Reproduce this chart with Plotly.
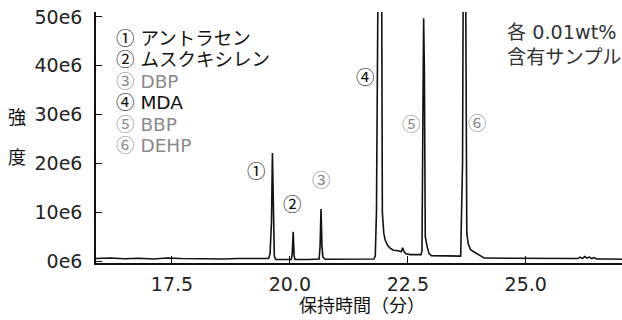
import plotly.graph_objects as go

# Chromatogram trace, points (time in min, intensity)
times = [15.89, 16.2, 16.5, 16.8, 17.1, 17.4, 17.7, 18.0, 18.3, 18.6, 18.9, 19.2, 19.45, 19.55,
         19.58, 19.61, 19.63, 19.65, 19.67, 19.70, 19.9, 20.03, 20.05, 20.07, 20.09, 20.11,
         20.4, 20.62, 20.64, 20.66, 20.68, 20.70, 20.75, 21.2, 21.78, 21.81, 21.835, 21.87,
         21.945, 21.96, 21.99, 22.02, 22.07, 22.12, 22.19, 22.30, 22.36, 22.39, 22.42, 22.46,
         22.55, 22.78, 22.80, 22.82, 22.835, 22.85, 22.87, 22.91, 22.95, 23.0, 23.3, 23.62,
         23.66, 23.675, 23.725, 23.74, 23.75, 23.78, 23.83, 23.93, 24.05, 24.12, 24.6, 25.2,
         25.8, 26.1, 26.15, 26.2, 26.25, 26.3, 26.35, 26.4, 26.45, 26.5, 26.8, 27.04]
intensity = [0.5e6, 0.6e6, 0.45e6, 0.55e6, 0.4e6, 0.6e6, 0.5e6, 0.45e6, 0.55e6, 0.4e6, 0.5e6, 0.45e6, 0.4e6, 0.5e6,
             1.5e6, 8e6, 22.1e6, 8e6, 1.0e6, 0.3e6, 0.25e6, 0.3e6, 1.5e6, 6.0e6, 1.0e6, 0.3e6,
             0.3e6, 0.4e6, 3e6, 10.65e6, 3e6, 0.8e6, 0.35e6, 0.35e6, 0.4e6, 1.0e6, 10e6, 60e6,
             60e6, 10e6, 5.7e6, 4.3e6, 3.2e6, 2.7e6, 2.2e6, 2.1e6, 1.9e6, 2.7e6, 1.9e6, 1.5e6,
             1.3e6, 1.3e6, 2e6, 30e6, 49.7e6, 40e6, 5e6, 2.9e6, 1.5e6, 1.1e6, 1.0e6, 1.0e6,
             20e6, 60e6, 60e6, 10e6, 5.7e6, 3.5e6, 2.3e6, 1.7e6, 1.0e6, 0.6e6, 0.55e6, 0.5e6,
             0.5e6, 0.5e6, 0.8e6, 0.5e6, 0.9e6, 0.6e6, 0.8e6, 0.5e6, 0.7e6, 0.4e6, 0.4e6, 0.35e6]

x_tick_vals = [17.5, 20.0, 22.5, 25.0]
x_tick_text = ["17.5", "20.0", "22.5", "25.0"]
y_tick_vals = [0, 10e6, 20e6, 30e6, 40e6, 50e6]
y_tick_text = ["0e6", "10e6", "20e6", "30e6", "40e6", "50e6"]

legend_marks = ["①", "②", "③", "④", "⑤", "⑥"]
legend_names = ["アントラセン", "ムスクキシレン", "DBP", "MDA", "BBP", "DEHP"]
legend_gray = [False, False, True, False, True, True]

peak_labels = ["①", "②", "③", "④", "⑤", "⑥"]
peak_label_t = [19.30, 20.05, 20.68, 21.61, 22.58, 23.98]
peak_label_y = [18.3e6, 11.5e6, 16.4e6, 37.6e6, 28.0e6, 28.1e6]

BLACK = "#111111"
GRAY = "#8a8a8a"
FONT = "DejaVu Sans, Noto Sans CJK JP"
MARK_FONT = "Liberation Sans, Noto Sans CJK JP"

W, H = 622, 320
L, R, T, B = 96, 0, 12, 57
PW, PH = W - L - R, H - T - B

def px(x):
    return (x - L) / PW

def py(y):
    return (H - B - y) / PH

fig = go.Figure()
fig.add_trace(go.Scatter(x=times, y=intensity, mode="lines",
                         line=dict(color=BLACK, width=1.6), hoverinfo="skip"))

lines = []
for m, n, g in zip(legend_marks, legend_names, legend_gray):
    col = GRAY if g else BLACK
    lines.append(f"<span style='color:{col};font-size:18.5px;font-family:{MARK_FONT}'>{m}</span>"
                 f"<span style='color:{col};font-size:18.5px'> {n}</span>")
legend_text = "<br>".join(lines)

ann = []
ann.append(dict(xref="paper", yref="paper", x=px(114), y=py(26), text=legend_text,
                showarrow=False, xanchor="left", yanchor="top", align="left",
                font=dict(family=FONT, size=16.5, color=BLACK)))
for lab, t, v, g in zip(peak_labels, peak_label_t, peak_label_y, legend_gray):
    ann.append(dict(x=t, y=v, text=lab, showarrow=False, xanchor="center", yanchor="middle",
                    font=dict(family=MARK_FONT, size=18.5, color=GRAY if g else BLACK)))
ann.append(dict(xref="paper", yref="paper", x=px(505), y=py(19), text="各 0.01wt%<br>含有サンプル",
                showarrow=False, xanchor="left", yanchor="top", align="left",
                font=dict(family=FONT, size=19.2, color="#333333")))
ann.append(dict(xref="paper", yref="paper", x=px(17), y=py(118), text="強",
                showarrow=False, xanchor="center", yanchor="middle",
                font=dict(family=FONT, size=18, color=BLACK)))
ann.append(dict(xref="paper", yref="paper", x=px(17), y=py(158), text="度",
                showarrow=False, xanchor="center", yanchor="middle",
                font=dict(family=FONT, size=18, color=BLACK)))
ann.append(dict(xref="paper", yref="paper", x=px(362), y=py(305), text="保持時間（分）",
                showarrow=False, xanchor="center", yanchor="middle",
                font=dict(family=FONT, size=18, color=BLACK)))

fig.update_layout(
    width=W, height=H, margin=dict(l=L, r=R, t=T, b=B),
    paper_bgcolor="white", plot_bgcolor="white", showlegend=False,
    font=dict(family=FONT, size=19, color="#222222"),
    annotations=ann,
)
fig.update_xaxes(range=[15.89, 27.04], tickvals=x_tick_vals, ticktext=x_tick_text,
                 ticks="inside", ticklen=7, tickcolor=BLACK, showline=True, linecolor=BLACK,
                 linewidth=1.5, showgrid=False, zeroline=False, tickfont=dict(size=19),
                 ticklabelstandoff=3)
fig.update_yaxes(range=[-0.41e6, 51.0e6], tickvals=y_tick_vals, ticktext=y_tick_text,
                 ticks="inside", ticklen=6, tickcolor=BLACK, showline=True, linecolor=BLACK,
                 linewidth=1.5, showgrid=False, zeroline=False, tickfont=dict(size=19),
                 ticklabelstandoff=8)

fig.write_html("out.html", config={"displayModeBar": False},
               post_script="document.body.style.margin='0';")
